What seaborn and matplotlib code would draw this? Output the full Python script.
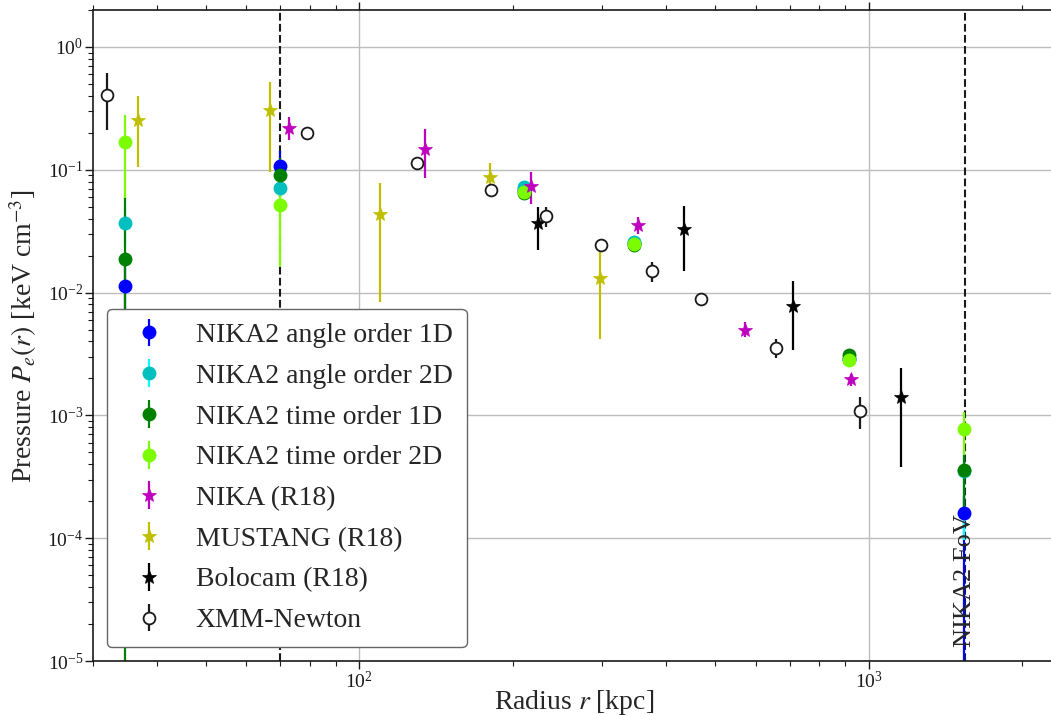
import numpy as np
import matplotlib
matplotlib.use("Agg")
import matplotlib.pyplot as plt
import seaborn as sns

# NIKA2 profiles (all four share the same radii)
r_nika2 = [34.7, 69.8, 211.0, 346.0, 916.0, 1540.0]

p_ang1d = [0.0114, 0.107, 0.068, 0.0252, 0.0029, 1.6e-4]
lo_ang1d = [0.006, 0.08, 0.062, 0.023, 0.0027, 1e-7]
hi_ang1d = [0.02, 0.143, 0.074, 0.0275, 0.0031, 2.2e-4]

p_ang2d = [0.0371, 0.0715, 0.0728, 0.0259, 0.0029, 3.5e-4]
lo_ang2d = [0.025, 0.06, 0.068, 0.024, 0.0027, 9.7e-5]
hi_ang2d = [0.05, 0.09, 0.079, 0.028, 0.0031, 5e-4]

p_tim1d = [0.0188, 0.0912, 0.0644, 0.0245, 0.0031, 3.57e-4]
lo_tim1d = [1e-7, 0.06, 0.057, 0.0225, 0.0029, 1.81e-4]
hi_tim1d = [0.06, 0.125, 0.07, 0.0265, 0.0033, 4.8e-4]

p_tim2d = [0.167, 0.0514, 0.0663, 0.0247, 0.00283, 7.75e-4]
lo_tim2d = [0.0586, 0.0163, 0.061, 0.023, 0.0026, 4.76e-4]
hi_tim2d = [0.28, 0.09, 0.071, 0.0265, 0.003, 1.07e-3]

# NIKA (R18)
r_nika = [72.9, 134.3, 217.3, 353.0, 573.0, 925.0]
p_nika = [0.220, 0.1486, 0.0743, 0.0355, 0.00496, 0.00197]
lo_nika = [0.175, 0.0853, 0.0524, 0.030, 0.00438, 0.00175]
hi_nika = [0.271, 0.214, 0.0966, 0.041, 0.00573, 0.00217]

# MUSTANG (R18)
r_must = [36.8, 66.8, 110.0, 180.5, 297.0]
p_must = [0.254, 0.307, 0.0434, 0.0869, 0.01323]
lo_must = [0.106, 0.0955, 0.00844, 0.075, 0.00417]
hi_must = [0.40, 0.52, 0.0776, 0.113, 0.025]

# Bolocam (R18)
r_bolo = [224.7, 433.5, 710.0, 1156.0]
p_bolo = [0.0367, 0.0328, 0.00783, 0.00141]
lo_bolo = [0.0222, 0.0151, 0.00341, 0.00038]
hi_bolo = [0.050, 0.0507, 0.0124, 0.00243]

# XMM-Newton
r_xmm = [32.0, 78.9, 129.6, 181.3, 232.8, 298.0, 376.0, 468.0, 658.0, 961.0]
p_xmm = [0.406, 0.2005, 0.113, 0.0685, 0.042, 0.0244, 0.0150, 0.00887, 0.00352, 0.00109]
lo_xmm = [0.211, 0.178, 0.105, 0.064, 0.0344, 0.0222, 0.0121, 0.0080, 0.00295, 0.00077]
hi_xmm = [0.61, 0.224, 0.121, 0.073, 0.050, 0.0268, 0.0179, 0.0098, 0.00419, 0.0014]

# beam / field of view limits
r_beam = 69.8
r_fov = 1545.0

sns.set_theme(style="ticks")
plt.rcParams['font.family'] = ['serif']
plt.rcParams['font.serif'] = ['Liberation Serif', 'DejaVu Serif']
plt.rcParams['mathtext.fontset'] = 'stix'

fig = plt.figure(figsize=(10.51, 7.15), dpi=100)
ax = fig.add_axes([0.0885, 0.0755, 0.915, 0.9105])


def yerr(p, lo, hi):
    p = np.array(p)
    return [p - np.array(lo), np.array(hi) - p]


# matplotlib's classic single-letter colours (seaborn remaps 'b','g',...)
series = [
    (r_nika2, p_ang1d, lo_ang1d, hi_ang1d, 'o', '#0000ff', '#0000ff', 10, 'NIKA2 angle order 1D'),
    (r_nika2, p_ang2d, lo_ang2d, hi_ang2d, 'o', '#00bfbf', '#00ffff', 10, 'NIKA2 angle order 2D'),
    (r_nika2, p_tim1d, lo_tim1d, hi_tim1d, 'o', '#008000', '#008000', 10, 'NIKA2 time order 1D'),
    (r_nika2, p_tim2d, lo_tim2d, hi_tim2d, 'o', '#7cfc00', '#7cfc00', 10, 'NIKA2 time order 2D'),
    (r_nika, p_nika, lo_nika, hi_nika, '*', '#bf00bf', '#bf00bf', 10, 'NIKA (R18)'),
    (r_must, p_must, lo_must, hi_must, '*', '#bfbf00', '#bfbf00', 10, 'MUSTANG (R18)'),
    (r_bolo, p_bolo, lo_bolo, hi_bolo, '*', '#000000', '#000000', 10, 'Bolocam (R18)'),
]

for r, p, lo, hi, mk, col, ecol, ms, lab in series:
    ax.errorbar(r, p, yerr=yerr(p, lo, hi), fmt=mk, color=col, ecolor=ecol,
                ms=ms, elinewidth=1.6, mew=0.5 if mk == '*' else 0, label=lab)

ax.errorbar(r_xmm, p_xmm, yerr=yerr(p_xmm, lo_xmm, hi_xmm), fmt='o', color='k',
            mfc='w', mec='k', ms=8.5, mew=1.3, elinewidth=1.6, label='XMM-Newton')

ax.axvline(r_beam, color='k', ls='--', lw=1.5, zorder=1.5)
ax.axvline(r_fov, color='k', ls='--', lw=1.5, zorder=1.5)
ax.text(r_fov, 1.3e-5, 'NIKA2 FoV', rotation=90, ha='center', va='bottom',
        fontsize=19, zorder=3)

ax.set_xscale('log')
ax.set_yscale('log')
ax.set_xlim(30, 2320)
ax.set_ylim(1e-5, 2.0)
ax.grid(True, which='major', color='#bdbdbd', lw=1)
ax.tick_params(which='both', direction='out', top=True, right=True,
               labelsize=14, pad=1, colors='k')
ax.tick_params(which='major', length=6, width=1)
ax.tick_params(which='minor', length=3.5, width=0.8)
for s in ax.spines.values():
    s.set_linewidth(1.2)
    s.set_color('k')

ax.set_xlabel('Radius $r$ [kpc]', fontsize=20, labelpad=-3)
ax.set_ylabel('Pressure $P_e(r)$ [keV cm$^{-3}$]', fontsize=20, labelpad=6)

ax.legend(loc='lower left', fontsize=20, frameon=True, fancybox=True,
          edgecolor='#666666', framealpha=1.0, handletextpad=0.7,
          borderpad=0.5, labelspacing=0.55)

fig.savefig('out.png', dpi=100)
